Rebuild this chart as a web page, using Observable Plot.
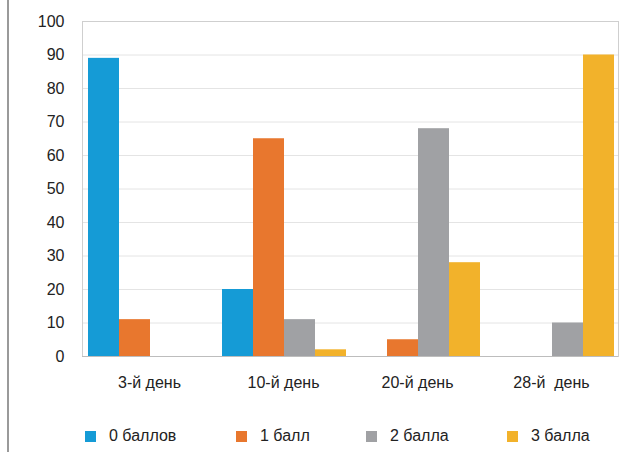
<!DOCTYPE html>
<html><head><meta charset="utf-8">
<script src="https://cdn.jsdelivr.net/npm/d3@7"></script>
<script src="https://cdn.jsdelivr.net/npm/@observablehq/plot@0.6"></script>
<style>
body{margin:0;background:#fff;font-family:"Liberation Sans",Arial,Helvetica,sans-serif}
#wrap{position:relative;width:631px;height:452px;overflow:hidden}
#border{position:absolute;left:7px;top:0;width:2px;height:452px;background:#9a9a9a}
#chart{position:absolute;left:0;top:0}
#chart svg text{white-space:pre}
#legend{position:absolute;left:0;top:424px;width:631px;height:24px;font-size:16px;color:#222}
.item{position:absolute;top:0;display:flex;align-items:center;height:24px}
.sw{width:11px;height:11px;margin-right:13px}
</style>
</head><body>
<div id="wrap"><div id="border"></div><div id="chart"></div><div id="legend"></div></div>
<script>
const days = ["3-й день", "10-й день", "20-й день", "28-й  день"];
const seriesNames = ["0 баллов", "1 балл", "2 балла", "3 балла"];
const seriesColors = ["#159bd6", "#e8772e", "#a0a1a4", "#f2b22b"];
const s0 = [89, 20, 0, 0];
const s1 = [11, 65, 5, 0];
const s2 = [0, 11, 68, 10];
const s3 = [0, 2, 28, 90];
const yTicks = [0, 10, 20, 30, 40, 50, 60, 70, 80, 90, 100];

const seriesValues = [s0, s1, s2, s3];
const rows = [];
seriesValues.forEach((vals, si) => vals.forEach((v, di) => rows.push({day: days[di], series: si, value: v})));

// layout within each day band (band width = 134px)
const bandW = 134, groupOffset = 6, barW = 31;

const barMarks = seriesNames.map((name, si) =>
  Plot.barY(rows.filter(r => r.series === si && r.value > 0), {
    x: "day", y: "value", fill: seriesColors[si],
    insetLeft: groupOffset + barW * si,
    insetRight: bandW - groupOffset - barW * (si + 1)
  })
);

const chart = Plot.plot({
  width: 631,
  height: 400,
  marginLeft: 82,
  marginRight: 13,
  marginTop: 21,
  marginBottom: 44,
  style: {fontSize: "16px", fontFamily: "Liberation Sans, Arial, sans-serif", color: "#222", background: "transparent"},
  x: {type: "band", domain: days, padding: 0, tickSize: 0, tickPadding: 20, label: null},
  y: {domain: [0, 100], ticks: yTicks, tickSize: 0, tickPadding: 18, label: null},
  marks: [
    Plot.ruleY(yTicks.filter(t => t > 0), {stroke: "#e4e4e4"}),
    Plot.frame({stroke: "#cfcfcf"}),
    ...barMarks,
    Plot.ruleY([0], {stroke: "#bdbdbd"})
  ]
});
document.getElementById("chart").appendChild(chart);

const legendLeft = [85, 236, 366, 507];
const legend = document.getElementById("legend");
seriesNames.forEach((name, i) => {
  const it = document.createElement("div");
  it.className = "item";
  it.style.left = legendLeft[i] + "px";
  const sw = document.createElement("div");
  sw.className = "sw";
  sw.style.background = seriesColors[i];
  const tx = document.createElement("span");
  tx.textContent = name;
  it.appendChild(sw); it.appendChild(tx);
  legend.appendChild(it);
});
</script>
</body></html>
